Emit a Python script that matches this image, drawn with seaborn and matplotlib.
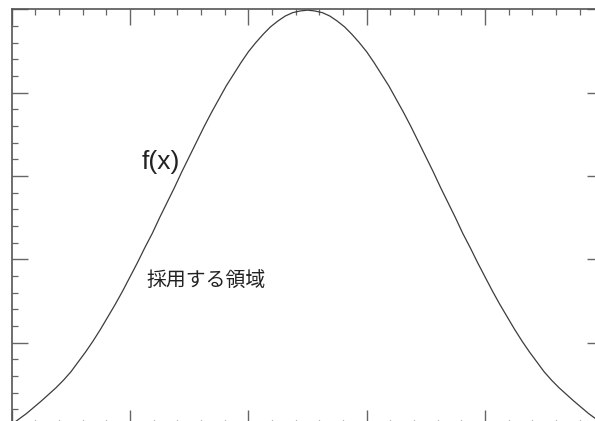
import matplotlib
matplotlib.use("Agg")
import matplotlib.pyplot as plt
from matplotlib.ticker import MultipleLocator, NullFormatter
import seaborn as sns
import pandas as pd

# Density curve f(x), sampled on a regular grid of step 1/16
x_vals = [0.0, 0.0625, 0.125, 0.1875, 0.25, 0.3125, 0.375, 0.4375, 0.5, 0.5625,
          0.625, 0.6875, 0.75, 0.8125, 0.875, 0.9375, 1.0, 1.0625, 1.125, 1.1875,
          1.25, 1.3125, 1.375, 1.4375, 1.5, 1.5625, 1.625, 1.6875, 1.75, 1.8125,
          1.875, 1.9375, 2.0, 2.0625, 2.125, 2.1875, 2.25, 2.3125, 2.375, 2.4375,
          2.5,
          2.5625, 2.625, 2.6875, 2.75, 2.8125, 2.875, 2.9375, 3.0, 3.0625, 3.125,
          3.1875, 3.25, 3.3125, 3.375, 3.4375, 3.5, 3.5625, 3.625, 3.6875, 3.75,
          3.8125, 3.875, 3.9375, 4.0, 4.0625, 4.125, 4.1875, 4.25, 4.3125, 4.375,
          4.4375, 4.5, 4.5625, 4.625, 4.6875, 4.75, 4.8125, 4.875, 4.9375, 5.0]
f_vals = [0.02, 0.085, 0.15, 0.225, 0.30, 0.38, 0.46, 0.55, 0.65, 0.77,
          0.89, 1.02, 1.16, 1.31, 1.46, 1.62, 1.79, 1.96, 2.14, 2.31,
          2.50, 2.68, 2.86, 3.05, 3.23, 3.41, 3.59, 3.76, 3.92, 4.08,
          4.22, 4.36, 4.49, 4.60, 4.70, 4.79, 4.86, 4.92, 4.96, 4.98,
          4.99,
          4.98, 4.96, 4.92, 4.86, 4.79, 4.70, 4.60, 4.49, 4.36, 4.22,
          4.08, 3.92, 3.76, 3.59, 3.41, 3.23, 3.05, 2.86, 2.68, 2.50,
          2.31, 2.14, 1.96, 1.79, 1.62, 1.46, 1.31, 1.16, 1.02, 0.89,
          0.77, 0.65, 0.55, 0.46, 0.38, 0.30, 0.225, 0.15, 0.085, 0.02]

curve_label = "f(x)"
region_label = "採用する領域"

df = pd.DataFrame({"x": x_vals, "f": f_vals})

sns.set_style("ticks")
plt.rcParams["font.family"] = ["Noto Sans CJK JP", "DejaVu Sans"]

fig = plt.figure(figsize=(5.95, 4.21), dpi=100)
ax = fig.add_axes([0.0197, -0.0119, 0.9943, 0.9898])

sns.lineplot(data=df, x="x", y="f", ax=ax, color="#3c3c3c", linewidth=0.9,
             estimator=None, sort=False)

ax.set_xlim(0, 5)
ax.set_ylim(0, 5)
ax.set_xlabel("")
ax.set_ylabel("")

for side in ["left", "right", "top", "bottom"]:
    ax.spines[side].set_visible(True)
    ax.spines[side].set_color("#555555")
    ax.spines[side].set_linewidth(1.2)

ax.xaxis.set_major_locator(MultipleLocator(1))
ax.xaxis.set_minor_locator(MultipleLocator(0.2))
ax.yaxis.set_major_locator(MultipleLocator(1))
ax.yaxis.set_minor_locator(MultipleLocator(0.2))
ax.xaxis.set_major_formatter(NullFormatter())
ax.yaxis.set_major_formatter(NullFormatter())
ax.tick_params(which="both", direction="in", top=True, right=True,
               bottom=True, left=True, colors="#666666")
ax.tick_params(which="major", length=11.5, width=1.0)
ax.tick_params(which="minor", length=4.0, width=0.9)

ax.text(1.262, 3.17, curve_label, fontsize=19, ha="center", va="center",
        family=["Liberation Sans", "DejaVu Sans"], color="#222222")
ax.text(1.646, 1.74, region_label, fontsize=14.3, ha="center", va="center",
        family=["Noto Sans CJK JP", "DejaVu Sans"], color="#222222")

fig.savefig("out.png", dpi=100)
